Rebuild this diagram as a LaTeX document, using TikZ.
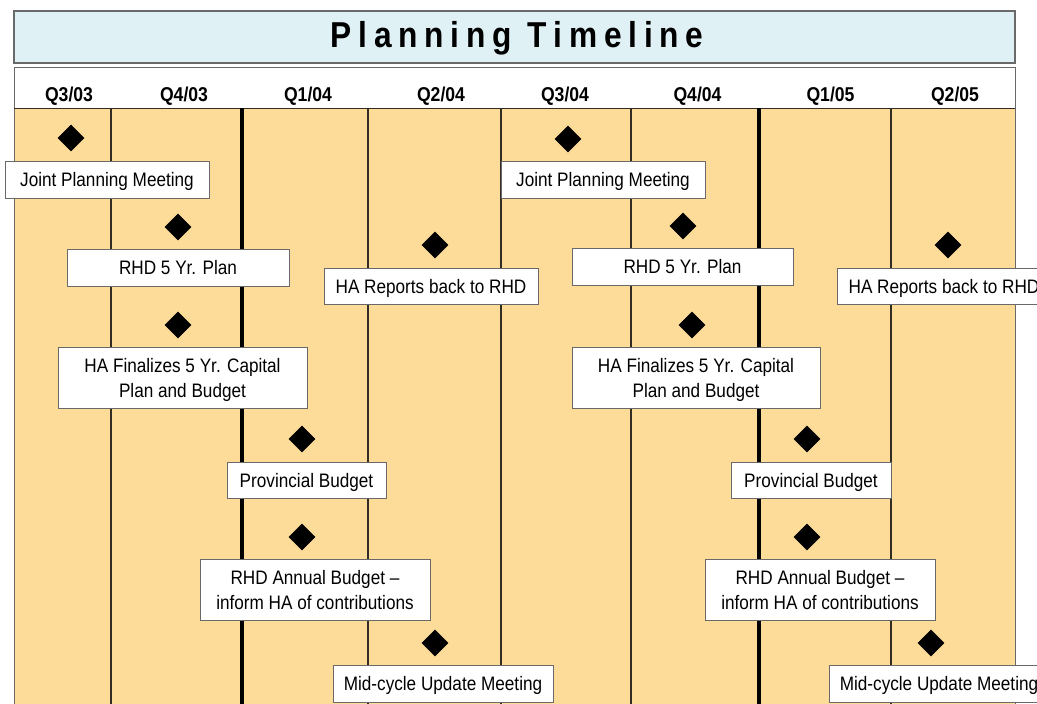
\documentclass[tikz,border=0pt]{standalone}
\usepackage{fontspec}
\setmainfont{Liberation Sans}[FakeStretch=0.88]
\usetikzlibrary{shapes.geometric}
\definecolor{titlecyan}{RGB}{223,241,244}
\definecolor{quarterfill}{RGB}{253,220,154}
\definecolor{framegray}{RGB}{105,105,105}
\definecolor{linedark}{RGB}{50,44,36}

\begin{document}
\begin{tikzpicture}
        [x=1pt,y=-1pt,
         event/.style={rectangle,draw=framegray,fill=white,line width=0.8pt,align=center,inner sep=0pt,text depth=0pt,font=\fontsize{19.5}{25}\selectfont},
         milestone/.style={diamond,fill=black,inner sep=0pt,minimum width=27pt,minimum height=27pt},
         quarter/.style={anchor=base,font=\bfseries\fontsize{20}{24}\selectfont}]
        \clip (0,0) rectangle (1037,704);

        % frames
        \draw[framegray, line width=1.5pt, fill=titlecyan] (14,11) rectangle (1015,63);
        \draw[framegray, line width=1pt, fill=white] (14,67) rectangle (1015,108);
        \draw[framegray, line width=1pt, fill=quarterfill] (14,108) rectangle (1015,720);
        \draw[linedark, line width=1pt] (14,108) -- (1015,108);

        % quarter lines
        \foreach \x in {111,368,501,631,891}
            \draw[linedark, line width=1.1pt] (\x,108) -- (\x,704);
        \foreach \x in {242,759}
            \draw[black, line width=3.5pt] (\x,108) -- (\x,704);

        % title
        \node  (title) at   (517,38)  {\bfseries\fontsize{36}{40}\selectfont\addfontfeature{LetterSpace=19}Planning Timeline};

        % quarters
        \node[quarter]  (Q1) at  (69,101)    {Q3/03};
        \node[quarter]  (Q2) at  (184,101)   {Q4/03};
        \node[quarter]  (Q3) at  (308,101)   {Q1/04};
        \node[quarter]  (Q4) at  (441,101)   {Q2/04};
        \node[quarter]  (Q5) at  (565,101)   {Q3/04};
        \node[quarter]  (Q6) at  (697.5,101) {Q4/04};
        \node[quarter]  (Q7) at  (830.5,101) {Q1/05};
        \node[quarter]  (Q8) at  (955,101)   {Q2/05};

        % milestones, first cycle
        \node[milestone]  (D1) at  (71,138)   {};
        \node[milestone]  (D2) at  (178,227)  {};
        \node[milestone]  (D3) at  (435,245)  {};
        \node[milestone]  (D4) at  (178,325)  {};
        \node[milestone]  (D5) at  (302,439)  {};
        \node[milestone]  (D6) at  (302,537)  {};
        \node[milestone]  (D7) at  (435,643)  {};

        % milestones, second cycle
        \node[milestone]  (E1) at  (568,139)  {};
        \node[milestone]  (E2) at  (683,226)  {};
        \node[milestone]  (E3) at  (948,245)  {};
        \node[milestone]  (E4) at  (692,325)  {};
        \node[milestone]  (E5) at  (807,439)  {};
        \node[milestone]  (E6) at  (807,537)  {};
        \node[milestone]  (E7) at  (931,643)  {};

        % events, first cycle
        \node[event, minimum width=204pt, minimum height=37pt]  (JPM1)  at  (107,179.5)  {Joint Planning Meeting};
        \node[event, minimum width=222pt, minimum height=37pt]  (PLAN1) at  (178,267.5)  {RHD 5 Yr. Plan};
        \node[event, minimum width=214pt, minimum height=36pt]  (REP1)  at  (431,286)    {HA Reports back to RHD};
        \node[event, minimum width=249pt, minimum height=61pt]  (FIN1)  at  (182.5,377.5) {HA Finalizes 5 Yr. Capital\\Plan and Budget};
        \node[event, minimum width=159pt, minimum height=36pt]  (PROV1) at  (306.5,480)  {Provincial Budget};
        \node[event, minimum width=230pt, minimum height=61pt]  (ANN1)  at  (315,589.5)  {RHD Annual Budget --\\inform HA of contributions};
        \node[event, minimum width=220pt, minimum height=37pt]  (MID1)  at  (443,683.5)  {Mid-cycle Update Meeting};

        % events, second cycle
        \node[event, minimum width=204pt, minimum height=37pt]  (JPM2)  at  (603,179.5)  {Joint Planning Meeting};
        \node[event, minimum width=221pt, minimum height=37pt]  (PLAN2) at  (682.5,266.5) {RHD 5 Yr. Plan};
        \node[event, minimum width=214pt, minimum height=36pt]  (REP2)  at  (944,286)    {HA Reports back to RHD};
        \node[event, minimum width=248pt, minimum height=61pt]  (FIN2)  at  (696,377.5)  {HA Finalizes 5 Yr. Capital\\Plan and Budget};
        \node[event, minimum width=160pt, minimum height=36pt]  (PROV2) at  (811,480)    {Provincial Budget};
        \node[event, minimum width=230pt, minimum height=61pt]  (ANN2)  at  (820,589.5)  {RHD Annual Budget --\\inform HA of contributions};
        \node[event, minimum width=220pt, minimum height=37pt]  (MID2)  at  (939,683.5)  {Mid-cycle Update Meeting};
    \end{tikzpicture}
\end{document}
